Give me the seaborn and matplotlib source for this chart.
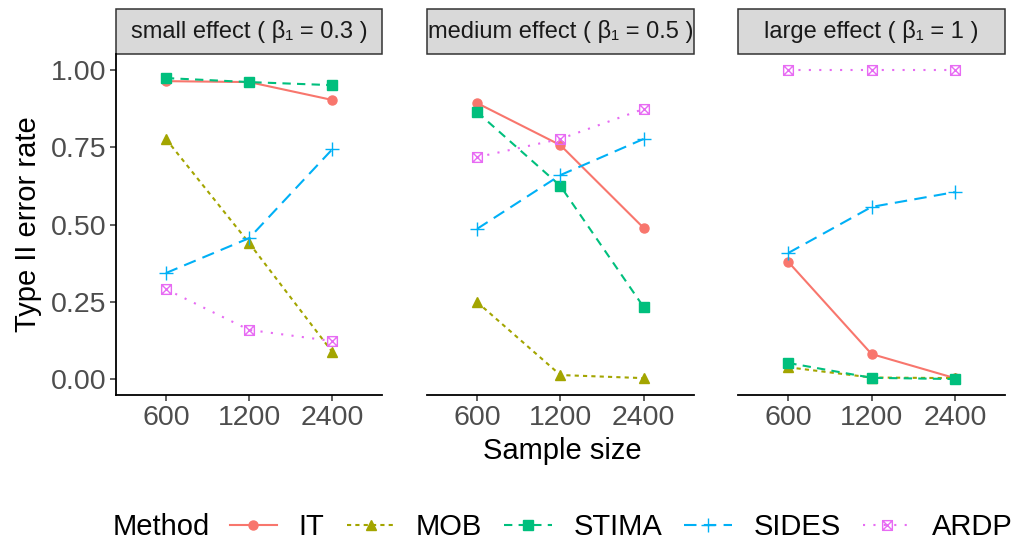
import numpy as np
import pandas as pd
import matplotlib
matplotlib.use("Agg")
import matplotlib.pyplot as plt
import seaborn as sns
from matplotlib.path import Path
from matplotlib.patches import Rectangle

plt.rcParams["font.family"] = ["Liberation Sans", "DejaVu Sans"]

sizes = ["600", "1200", "2400"]
effects = ["small effect ( β₁ = 0.3 )", "medium effect ( β₁ = 0.5 )", "large effect ( β₁ = 1 )"]
methods = ["IT", "MOB", "STIMA", "SIDES", "ARDP"]

# rows: small, medium, large effect; columns: sample sizes
it_err = [[0.964, 0.961, 0.903], [0.893, 0.757, 0.489], [0.379, 0.081, 0.003]]
mob_err = [[0.777, 0.440, 0.087], [0.249, 0.013, 0.003], [0.038, 0.005, 0.003]]
stima_err = [[0.974, 0.961, 0.951], [0.864, 0.625, 0.233], [0.052, 0.004, 0.0]]
sides_err = [[0.343, 0.456, 0.744], [0.486, 0.660, 0.777], [0.408, 0.557, 0.605]]
ardp_err = [[0.291, 0.159, 0.123], [0.718, 0.777, 0.874], [1.0, 1.0, 1.0]]

rows = []
for m, vals in zip(methods, [it_err, mob_err, stima_err, sides_err, ardp_err]):
    for e, ev in zip(effects, vals):
        for s, v in zip(sizes, ev):
            rows.append({"Method": m, "effect": e, "size": s, "rate": v})
df = pd.DataFrame(rows)

palette = {"IT": "#F8766D", "MOB": "#A3A500", "STIMA": "#00BF7D", "SIDES": "#00B0F6", "ARDP": "#E76BF3"}
dashes = {"IT": "", "MOB": (2, 2), "STIMA": (4, 3), "SIDES": (6, 3.5), "ARDP": (1, 4)}

plus = Path([(-1, 0), (1, 0), (0, -1), (0, 1)],
            [Path.MOVETO, Path.LINETO, Path.MOVETO, Path.LINETO])
boxx = Path([(-1, -1), (1, -1), (1, 1), (-1, 1), (-1, -1),
             (-1, -1), (1, 1), (-1, 1), (1, -1)],
            [Path.MOVETO, Path.LINETO, Path.LINETO, Path.LINETO, Path.CLOSEPOLY,
             Path.MOVETO, Path.LINETO, Path.MOVETO, Path.LINETO])
markers = {"IT": "o", "MOB": "^", "STIMA": "s", "SIDES": plus, "ARDP": boxx}

fig, axes = plt.subplots(1, 3, figsize=(10.17, 5.45), dpi=100, sharey=True)
fig.subplots_adjust(left=0.114, right=0.988, bottom=0.275, top=0.901, wspace=0.168)

grey = "#4D4D4D"
for i, (ax, e) in enumerate(zip(axes, effects)):
    sub = df[df["effect"] == e]
    sns.lineplot(data=sub, x="size", y="rate", hue="Method", style="Method",
                 hue_order=methods, style_order=methods, palette=palette,
                 dashes=dashes, markers=markers, markersize=6.5, linewidth=1.5,
                 legend=False, ax=ax)
    for line, m in zip(ax.get_lines(), methods):
        line.set_markeredgecolor(palette[m])
        line.set_markeredgewidth(1.0)
        line.set_label(m)
        if m == "MOB":
            line.set_markersize(7.5)
        if m == "SIDES":
            line.set_markersize(10)
        if m == "ARDP":
            line.set_markerfacecolor("none")
            line.set_markersize(7)
    ax.set_xlim(-0.6, 2.6)
    ax.set_ylim(-0.052, 1.052)
    ax.set_xticks(range(3))
    ax.set_xticklabels(sizes)
    ax.set_yticks([0, 0.25, 0.5, 0.75, 1.0])
    ax.set_yticklabels(["0.00", "0.25", "0.50", "0.75", "1.00"])
    ax.set_xlabel("")
    ax.set_ylabel("")
    ax.tick_params(labelsize=20.5, labelcolor=grey, color="#333333",
                   length=4, width=1.1, pad=3)
    for sp in ["top", "right"]:
        ax.spines[sp].set_visible(False)
    ax.spines["bottom"].set_linewidth(1.3)
    ax.spines["bottom"].set_color("black")
    if i == 0:
        ax.spines["left"].set_linewidth(1.3)
        ax.spines["left"].set_color("black")
    else:
        ax.spines["left"].set_visible(False)
        ax.tick_params(axis="y", left=False, labelleft=False)
    ax.add_patch(Rectangle((0, 1.0), 1, 0.132, transform=ax.transAxes, clip_on=False,
                           facecolor="#D9D9D9", edgecolor="#333333", linewidth=1.1))
    ax.text(0.5, 1.066, e, transform=ax.transAxes, ha="center", va="center",
            fontsize=17, color="#1A1A1A")

fig.text(0.553, 0.172, "Sample size", ha="center", va="center", fontsize=21)
fig.text(0.028, 0.588, "Type II error rate", ha="center", va="center",
         rotation=90, fontsize=21)

fig.text(0.159, 0.033, "Method", ha="center", va="center", fontsize=21)
handles = axes[0].get_lines()[:5]
fig.legend(handles, methods, loc="center left", bbox_to_anchor=(0.226, 0.033),
           ncol=5, frameon=False, fontsize=21, handlelength=1.62,
           handletextpad=0.74, columnspacing=0.77, borderaxespad=0, borderpad=0)

fig.savefig("out.png", dpi=100)
